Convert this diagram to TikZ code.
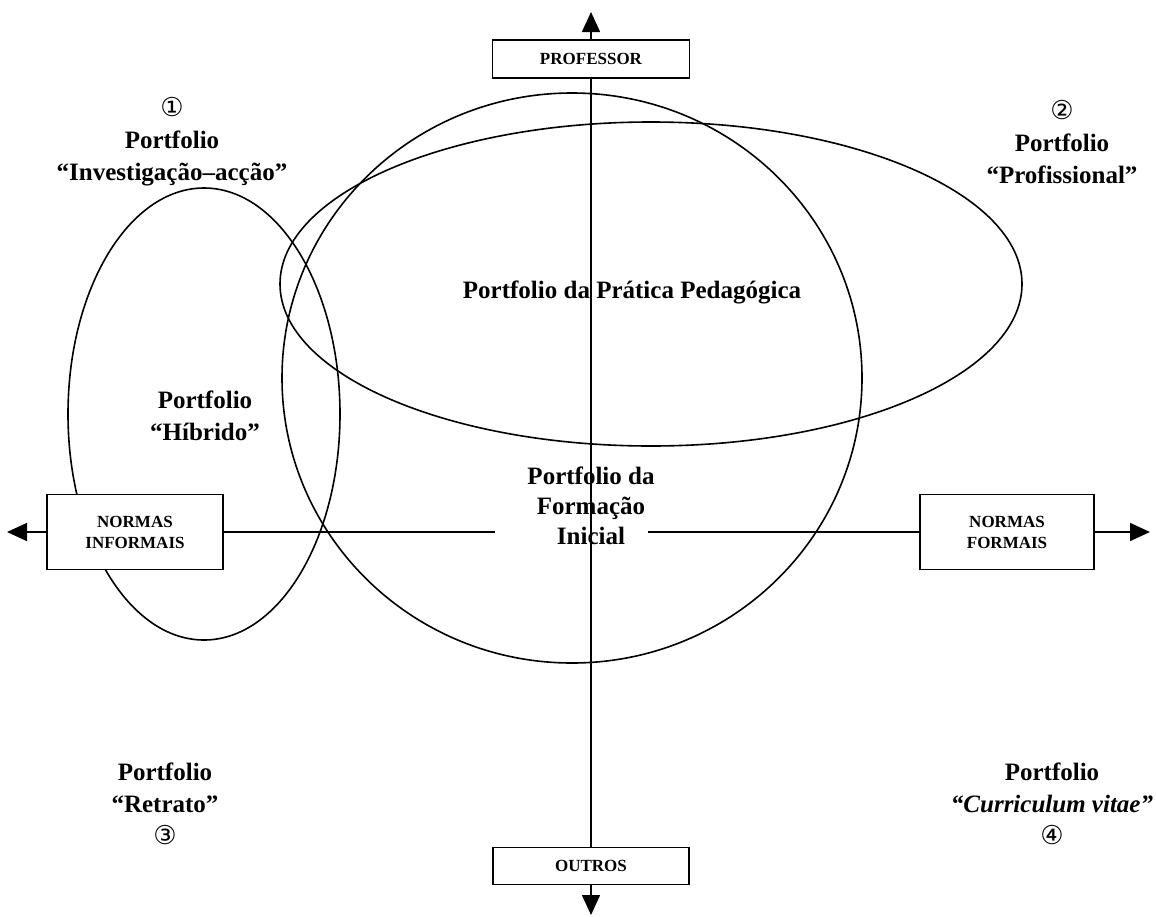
\documentclass[tikz,border=0pt]{standalone}
\usepackage{fontspec}
\setmainfont{Liberation Serif}
\newfontfamily\circfont{DejaVu Sans}
\usetikzlibrary{arrows.meta}
\tikzset{
axisbox/.style={draw, line width=0.9pt, fill=white, align=center, inner sep=0pt,
  font=\bfseries\fontsize{8.5}{10.5}\selectfont},
quadrant/.style={align=center, font=\bfseries\fontsize{12.5}{16}\selectfont},
axisline/.style={line width=0.8pt},
tip/.style={line width=0.8pt, -{Triangle[length=10pt,width=9pt]}},
ring/.style={line width=0.8pt}}
\newcommand{\quadnum}[1]{{\circfont\mdseries\fontsize{13}{16}\selectfont #1}}

\begin{document}
\begin{tikzpicture}[x=0.5pt,y=-0.5pt]
    \useasboundingbox (0,0) rectangle (1156,916);

                % the three portfolio regions
                \draw[ring] (572,378) ellipse [x radius=145pt, y radius=142.5pt];
                \draw[ring] (651,284) ellipse [x radius=185.5pt, y radius=81pt];
                \draw[ring] (204,414) ellipse [x radius=68pt, y radius=113pt];

                \node[axisbox, minimum width=98.5pt, minimum height=19pt] (prof) at (591,59) {PROFESSOR};
                \node[axisbox, minimum width=98pt, minimum height=18.5pt] (outros) at (591,866) {OUTROS};
                \node[axisbox, minimum width=88pt, minimum height=37.5pt] (ninf) at (135,532) {NORMAS\\INFORMAIS};
                \node[axisbox, minimum width=87pt, minimum height=37.5pt] (nform) at (1007,532) {NORMAS\\FORMAIS};

                \coordinate (topo) at (591,12);
                \coordinate (fundo) at (591,915);
                \coordinate (esq) at (7,532);
                \coordinate (dir) at (1150,532);
                \coordinate (cortel) at (495,532);
                \coordinate (corter) at (648,532);

                \node[quadrant, font=\bfseries\fontsize{12.5}{15}\selectfont] (fi) at (591,506) {Portfolio da\\Formação\\Inicial};
                \node[quadrant] (ppp) at (632,292) {Portfolio da Prática Pedagógica};
                \node[quadrant] (hib) at (205,416) {Portfolio\\“Híbrido”};

                \node[quadrant] (q1) at (172,142) {\quadnum{①}\\Portfolio\\“Investigação–acção”};
                \node[quadrant] (q2) at (1062,142) {\quadnum{②}\\Portfolio\\“Profissional”};
                \node[quadrant] (q3) at (165,804) {Portfolio\\“Retrato”\\\quadnum{③}};
                \node[quadrant] (q4) at (1052,804) {Portfolio\\{\itshape “Curriculum vitae”}\\\quadnum{④}};

                \draw[tip] (prof.north) -- (topo);
                \draw[tip] (outros.south) -- (fundo);
                \draw[axisline] (prof.south) -- (outros.north);
                \draw[tip] (ninf.west) -- (esq);
                \draw[tip] (nform.east) -- (dir);
                \draw[axisline] (ninf.east) -- (cortel);
                \draw[axisline] (nform.west) -- (corter);

            \end{tikzpicture}
\end{document}
